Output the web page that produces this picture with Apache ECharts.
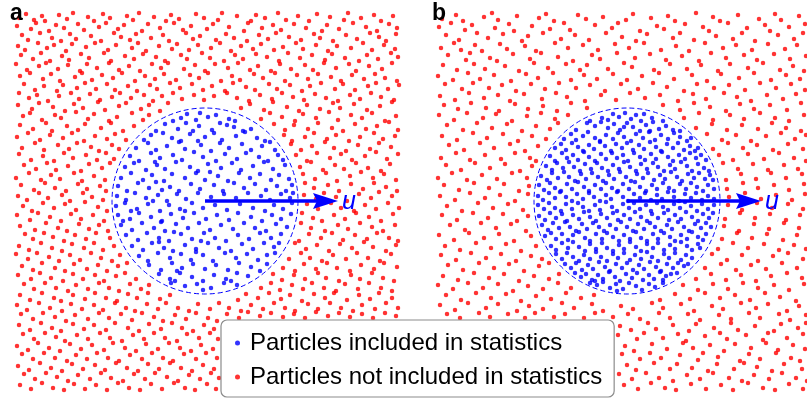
<!DOCTYPE html>
<html>
<head>
<meta charset="utf-8">
<script src="https://cdn.jsdelivr.net/npm/echarts@6/dist/echarts.min.js"></script>
<style>html,body{margin:0;padding:0;background:#fff}#chart{width:807px;height:398px}</style>
</head>
<body>
<div id="chart"></div>
<script>
// Panel-local coordinates (x right, y down), flat [x,y, x,y, ...]
const redA = [
4,6, 11,2, 19,8, 27,4, 30,9, 44,3, 52,7, 58,1, 73,5, 79,9, 88,2, 95,6, 112,4, 118,8, 124,1, 139,5, 151,9, 156,3, 164,7, 181,2, 189,6, 203,8, 207,1, 222,4, 236,9, 241,3, 250,6, 263,1, 271,8, 283,4, 294,9, 302,2, 315,5, 329,8, 333,1, 346,6, 359,3, 366,9, 378,4,
2,14, 16,17, 21,11, 34,19, 41,13, 49,16, 63,12, 69,18, 84,15, 91,11, 103,17, 109,13, 127,19, 133,12, 145,16, 159,11, 168,18, 176,14, 192,17, 198,12, 214,15, 229,19, 233,11, 247,16, 258,13, 266,18, 279,12, 291,16, 307,19, 312,13, 324,17, 338,11, 351,15, 362,19, 374,12, 382,16,
7,23, 13,28, 25,21, 37,26, 46,29, 55,22, 61,27, 76,24, 86,29, 99,21, 106,25, 115,28, 121,22, 136,26, 148,23, 154,29, 171,21, 178,27, 185,24, 201,28, 211,22, 219,26, 232,29, 244,23, 253,27, 261,21, 274,25, 286,28, 299,22, 305,26, 318,29, 331,23, 342,27, 355,21, 364,25, 371,29, 381,22,
3,34, 10,38, 23,31, 32,36, 39,33, 51,39, 57,32, 71,35, 80,31, 93,38, 101,33, 117,36, 123,31, 131,39, 144,34, 157,37, 162,32, 174,38, 183,33, 196,36, 205,31, 216,39, 226,34, 238,37, 246,32, 259,38, 268,35, 281,31, 288,37, 301,33, 313,39, 322,34, 336,36, 348,31, 357,38, 369,33, 380,37,
6,43, 18,47, 26,41, 35,49, 47,44, 54,48, 66,42, 74,46, 89,41, 96,49, 110,44, 119,47, 128,42, 141,45, 150,49, 166,43, 172,47, 187,41, 195,46, 209,49, 220,43, 228,47, 241,42, 252,45, 264,49, 273,41, 285,46, 297,43, 310,48, 317,42, 330,46, 344,49, 352,43, 363,47, 376,41, 383,45,
1,52, 12,58, 24,54, 31,51, 43,57, 53,53, 65,59, 72,52, 82,56, 94,51, 104,58, 114,54, 125,59, 137,52, 146,56, 153,51, 169,57, 180,53, 190,59, 200,52, 213,56, 223,51, 235,58, 243,54, 256,59, 265,52, 276,57, 290,53, 298,58, 309,51, 321,56, 334,52, 341,59, 354,54, 367,57, 377,51,
5,64, 15,61, 28,67, 36,62, 45,69, 60,65, 67,61, 77,68, 87,63, 98,66, 107,61, 120,69, 130,64, 140,67, 149,62, 161,68, 175,63, 184,66, 193,61, 206,69, 217,64, 225,68, 239,62, 248,66, 260,61, 270,69, 282,63, 293,67, 303,62, 316,65, 326,69, 337,63, 349,67, 360,62, 370,66, 382,69,
9,72, 20,78, 29,74, 42,79, 48,73, 62,76, 70,71, 81,77, 92,72, 100,78, 113,74, 122,79, 135,73, 142,77, 155,71, 165,76, 177,72, 188,78, 197,74, 210,79, 218,71, 231,75, 240,78, 254,72, 262,77, 275,73, 287,79, 295,74, 306,71, 320,77, 328,72, 340,78, 353,74, 361,71, 373,77, 384,73,
4,81, 14,86, 22,83, 33,89, 44,84, 56,81, 64,87, 75,82, 85,88, 97,85, 105,81, 116,86, 129,83, 138,89, 147,84, 158,81, 167,87, 179,83, 189,88, 199,84, 212,81, 222,86, 234,89, 245,83, 257,87, 267,81, 278,85, 289,88, 300,82, 311,86, 323,89, 335,83, 345,87, 356,81, 366,85, 379,88,
3,93, 17,97, 24,91, 38,95, 50,99, 59,92, 68,96, 83,90, 90,98, 104,94, 111,91, 126,97, 134,93, 145,99, 153,91, 226,96, 235,92, 249,98, 258,90, 272,95, 284,99, 292,93, 305,97, 318,91, 325,96, 339,92, 352,98, 365,94, 377,90,
8,104, 15,101, 27,108, 40,103, 46,106, 61,100, 73,107, 79,102, 94,109, 102,105, 117,101, 128,108, 134,103, 246,107, 255,101, 267,105, 280,109, 288,102, 301,106, 314,100, 323,108, 336,103, 347,106, 357,101, 370,109, 381,104,
5,113, 18,117, 31,111, 37,119, 52,114, 63,118, 70,112, 86,116, 96,111, 108,119, 119,114, 259,112, 270,118, 279,113, 293,117, 303,111, 317,116, 328,119, 340,112, 351,117, 362,114, 374,110, 383,118,
2,125, 13,121, 25,128, 35,123, 48,126, 57,121, 69,129, 80,124, 92,127, 100,122, 111,128, 269,123, 277,129, 290,125, 299,121, 312,127, 321,123, 334,129, 345,125, 359,121, 368,127, 380,124,
7,136, 20,131, 29,138, 43,133, 54,137, 62,131, 76,135, 84,139, 97,133, 104,137, 276,132, 286,138, 297,134, 310,130, 319,136, 331,139, 343,133, 355,137, 364,131, 376,135,
4,142, 16,148, 28,144, 39,149, 49,141, 58,146, 71,143, 82,148, 91,141, 99,147, 281,143, 292,149, 302,141, 315,146, 326,142, 337,148, 350,144, 361,140, 372,147, 383,142,
9,153, 21,157, 32,151, 41,158, 53,154, 66,159, 74,152, 87,156, 95,151, 285,155, 296,150, 308,158, 320,153, 329,157, 341,151, 353,156, 366,159, 375,152,
1,166, 14,161, 26,168, 36,163, 45,167, 59,161, 67,169, 79,164, 90,168, 288,162, 300,167, 311,161, 322,169, 335,164, 346,160, 358,166, 369,162, 381,168,
6,173, 19,178, 30,171, 40,176, 51,179, 63,172, 72,177, 85,174, 91,179, 290,171, 299,176, 313,173, 324,179, 336,172, 348,177, 359,171, 371,175, 382,179,
3,184, 12,188, 24,181, 33,186, 47,183, 55,189, 68,181, 77,185, 88,188, 289,183, 301,187, 309,181, 321,185, 332,189, 344,182, 356,186, 364,180, 377,184,
8,194, 17,199, 28,191, 39,196, 50,192, 61,198, 70,190, 83,195, 92,199, 292,192, 303,197, 316,191, 326,196, 339,199, 350,193, 361,197, 373,191, 384,196,
2,203, 15,208, 23,201, 35,205, 46,209, 56,202, 66,207, 78,203, 89,209, 287,201, 298,206, 307,209, 319,203, 330,207, 341,201, 354,205, 366,209, 378,202,
5,214, 20,218, 31,211, 43,216, 52,219, 64,212, 74,217, 84,213, 93,219, 286,211, 296,216, 310,219, 323,213, 333,217, 345,211, 357,215, 368,219, 380,213,
10,222, 18,227, 29,221, 38,225, 49,229, 60,223, 71,227, 81,221, 95,226, 284,229, 294,222, 306,226, 317,221, 328,228, 340,223, 352,227, 362,221, 374,226, 383,229,
4,234, 14,238, 26,231, 37,236, 47,239, 57,232, 69,236, 79,231, 88,238, 99,234, 280,231, 291,237, 302,233, 314,239, 325,232, 337,236, 349,230, 358,235, 371,239, 381,233,
1,242, 13,247, 22,241, 34,245, 44,249, 55,243, 65,248, 76,241, 86,246, 97,249, 105,243, 274,247, 286,241, 295,246, 307,249, 318,243, 331,247, 342,241, 353,246, 365,249, 376,242,
7,254, 18,258, 27,251, 40,256, 50,259, 59,252, 72,257, 83,253, 92,259, 103,254, 112,251, 268,256, 280,259, 289,252, 301,257, 312,251, 322,256, 335,259, 346,253, 359,257, 369,251, 382,255,
3,263, 16,267, 25,261, 36,266, 48,269, 58,262, 68,267, 80,263, 89,269, 101,264, 110,261, 121,267, 258,262, 267,268, 279,263, 290,267, 303,261, 311,266, 324,269, 336,263, 345,267, 357,261, 368,266, 379,269,
9,272, 19,277, 30,271, 41,276, 53,279, 61,273, 73,277, 84,271, 94,276, 104,279, 115,272, 126,277, 134,273, 246,276, 256,271, 265,278, 277,273, 288,277, 297,271, 309,276, 321,279, 330,272, 343,277, 354,271, 366,276, 377,279,
5,283, 15,288, 27,281, 39,286, 46,289, 58,283, 70,287, 80,281, 91,286, 102,289, 113,282, 122,286, 133,281, 145,287, 155,283, 223,288, 231,282, 243,286, 254,281, 266,287, 275,283, 287,289, 299,282, 310,286, 319,281, 332,288, 344,283, 355,287, 364,281, 377,286,
2,293, 12,298, 24,291, 35,296, 47,299, 56,292, 67,297, 79,293, 88,298, 100,291, 111,296, 120,299, 132,292, 143,297, 151,291, 163,296, 174,299, 183,292, 195,297, 204,291, 214,296, 226,299, 236,293, 248,297, 259,291, 270,296, 280,299, 293,292, 303,297, 315,291, 326,296, 338,299, 347,293, 360,297, 371,291, 383,296,
6,302, 18,307, 28,301, 40,305, 51,309, 60,303, 73,307, 84,301, 94,306, 106,302, 117,308, 127,301, 139,305, 148,309, 160,303, 171,307, 181,301, 193,306, 202,309, 212,302, 224,306, 233,300, 245,304, 256,301, 268,305, 279,302, 290,306, 301,300, 313,304, 324,301, 335,305, 347,302, 358,306, 370,301, 381,304,
4,313, 15,318, 26,311, 37,316, 46,319, 58,312, 69,317, 79,313, 91,318, 100,311, 113,316, 124,319, 134,312, 146,317, 157,311, 167,316, 178,319, 189,313, 199,317,
8,322, 19,327, 30,321, 41,325, 50,329, 62,323, 73,327, 85,321, 95,326, 107,329, 118,323, 129,327, 139,321, 150,326, 162,329, 172,322, 184,326, 195,321, 203,327,
2,334, 13,338, 23,331, 34,336, 45,339, 55,332, 66,337, 77,333, 89,338, 98,331, 110,336, 121,339, 131,332, 143,337, 154,331, 165,336, 176,339, 186,333, 198,337,
7,342, 18,347, 29,341, 40,346, 52,349, 61,343, 72,347, 82,341, 93,346, 104,349, 115,343, 127,347, 137,341, 148,346, 158,349, 169,342, 181,347, 191,341, 202,346,
3,354, 14,358, 25,351, 36,356, 47,359, 57,352, 68,357, 80,353, 90,358, 101,351, 112,356, 123,359, 133,352, 144,357, 155,351, 166,356, 177,359, 188,353, 199,357,
9,362, 20,367, 31,361, 42,365, 53,369, 63,363, 75,367, 86,361, 96,366, 108,369, 119,362, 130,367, 140,361, 152,365, 163,369, 174,363, 185,367, 196,361, 204,366,
5,373, 16,377, 27,371, 38,376, 49,378, 59,372, 70,377, 81,373, 92,378, 103,371, 114,376, 125,378, 136,372, 147,377, 159,371, 170,376, 180,378, 192,372, 201,377
];
const blueA = [
172,102, 185,101, 201,103, 166,106, 193,105, 214,107, 158,109, 181,108, 220,109,
150,112, 163,117, 171,111, 184,114, 197,118, 205,111, 219,115, 228,119, 141,119, 236,117, 178,119, 212,113,
136,123, 129,128, 148,121, 157,126, 166,129, 175,122, 190,125, 199,121, 207,128, 221,124, 230,120, 242,126, 250,129, 183,129,
121,136, 133,131, 141,138, 152,134, 164,130, 170,137, 186,133, 196,139, 205,131, 214,136, 227,132, 236,138, 247,134, 255,130, 260,138,
115,144, 124,149, 136,141, 145,146, 158,143, 167,148, 179,140, 188,145, 201,149, 210,142, 222,147, 231,141, 244,145, 253,149, 263,143, 268,148,
110,155, 119,151, 131,158, 142,153, 150,157, 161,150, 175,155, 183,159, 193,152, 206,156, 217,151, 226,158, 238,154, 249,150, 258,157, 270,153, 140,150,
106,166, 116,161, 128,168, 137,163, 149,169, 157,162, 170,166, 181,161, 190,168, 203,164, 213,169, 224,161, 235,166, 245,162, 256,168, 264,163, 274,167, 195,160,
103,174, 112,179, 123,171, 134,176, 141,170, 155,175, 164,179, 176,172, 185,177, 199,173, 208,179, 219,171, 229,176, 240,172, 251,178, 262,174, 271,179, 277,173, 147,178,
102,184, 111,188, 120,181, 131,186, 143,183, 152,189, 162,182, 171,187, 183,181, 196,185, 209,182, 221,186, 233,181, 246,184, 255,188, 266,182, 275,186, 278,181, 138,189,
101,194, 110,191, 122,197, 133,192, 145,199, 154,193, 165,197, 177,191, 188,196, 200,193, 212,198, 225,192, 238,196, 250,199, 259,193, 268,197, 277,191, 116,199, 170,199,
103,203, 115,207, 124,201, 136,205, 147,209, 156,202, 168,206, 179,201, 191,207, 202,203, 214,208, 223,201, 236,205, 247,209, 257,203, 266,207, 276,202, 108,209,
106,213, 117,218, 127,211, 139,216, 150,219, 161,212, 173,216, 184,211, 195,218, 206,213, 218,217, 229,211, 240,216, 251,219, 261,212, 272,215, 146,210,
111,223, 123,228, 132,221, 144,226, 154,229, 166,222, 177,227, 189,221, 200,226, 211,229, 223,223, 234,227, 245,221, 256,226, 266,222, 159,220, 186,229,
117,234, 128,238, 137,231, 149,236, 158,239, 170,233, 181,237, 193,231, 204,236, 216,239, 227,232, 238,237, 249,231, 259,235, 264,231, 144,230,
124,244, 133,249, 143,241, 155,246, 166,242, 176,248, 188,243, 198,249, 210,241, 221,246, 232,242, 243,248, 252,243, 260,241, 181,240,
134,253, 146,258, 157,251, 167,256, 178,252, 190,257, 201,253, 213,258, 224,251, 236,255, 245,259, 252,252, 162,259,
144,262, 155,267, 165,261, 177,265, 188,269, 199,263, 211,267, 222,261, 233,264, 160,269, 216,269,
156,271, 170,274, 182,272, 196,276, 209,271, 222,273, 188,278
];
const redB = [
5,7, 19,3, 26,9, 47,5, 55,1, 61,8, 80,4, 102,6, 109,2, 117,9, 141,3, 149,7, 166,5, 189,8, 196,2, 214,6, 231,4, 238,9, 259,1, 276,5, 283,9, 301,3, 322,7, 338,2, 344,8, 362,4,
2,15, 14,11, 28,18, 35,13, 58,16, 72,12, 77,19, 95,14, 113,17, 127,11, 133,18, 158,13, 175,16, 181,11, 203,19, 220,14, 227,17, 248,12, 266,15, 272,19, 291,11, 310,16, 328,13, 333,19, 352,15, 368,12,
9,23, 22,28, 40,21, 51,26, 66,22, 85,29, 91,24, 106,21, 124,27, 138,23, 152,28, 169,21, 185,25, 199,29, 210,22, 236,26, 243,21, 257,28, 279,24, 296,27, 305,21, 318,29, 341,23, 357,27, 366,21,
4,36, 17,31, 24,38, 38,33, 45,39, 63,32, 70,37, 88,34, 99,39, 118,31, 131,36, 146,33, 161,38, 178,32, 192,36, 207,31, 224,38, 239,34, 252,39, 268,31, 286,36, 299,33, 315,38, 331,32, 348,37, 360,33,
11,43, 29,48, 33,41, 53,46, 60,49, 76,42, 93,47, 104,41, 121,45, 136,49, 155,43, 163,47, 180,41, 198,46, 213,42, 229,48, 245,44, 262,49, 274,41, 289,46, 307,43, 320,48, 337,42, 353,47, 369,44,
6,53, 20,58, 37,52, 48,57, 68,54, 82,59, 97,51, 111,56, 129,52, 143,58, 150,53, 171,57, 187,51, 195,55, 217,58, 233,52, 250,57, 264,53, 281,59, 293,52, 311,56, 326,51, 343,58, 356,54, 367,59,
1,64, 16,68, 31,61, 43,67, 57,63, 74,69, 89,62, 101,66, 116,61, 134,68, 147,63, 160,67, 176,62, 190,68, 205,64, 222,61, 237,67, 255,63, 270,69, 284,62, 302,66, 317,61, 334,68, 349,63, 363,67,
8,72, 25,77, 36,71, 52,76, 65,73, 79,79, 94,72, 108,77, 122,71, 139,76, 153,73, 168,79, 184,72, 201,77, 216,71, 230,75, 247,79, 260,72, 277,76, 292,73, 308,78, 323,71, 339,76, 354,72, 368,78,
3,84, 18,88, 32,81, 47,86, 61,83, 73,89, 87,82, 105,87, 119,81, 130,85, 148,89, 164,83, 179,88, 193,81, 208,86, 223,83, 241,89, 256,82, 269,87, 287,81, 300,85, 314,89, 330,83, 346,87, 359,82,
7,93, 21,97, 34,91, 49,96, 62,99, 78,92, 91,97, 106,94, 120,99, 134,91, 150,96, 226,93, 243,98, 257,91, 273,95, 289,99, 303,92, 317,97, 333,93, 350,98, 364,91,
2,103, 17,108, 30,101, 46,106, 59,102, 75,109, 90,104, 104,101, 118,107, 131,103, 247,106, 262,101, 276,108, 293,103, 307,107, 323,101, 338,106, 352,109, 367,103,
10,113, 26,118, 40,111, 55,116, 70,112, 85,119, 99,114, 113,117, 121,111, 259,116, 275,112, 290,118, 305,113, 321,117, 335,111, 349,116, 364,119,
5,124, 20,128, 36,121, 50,126, 66,122, 81,129, 95,124, 109,127, 270,122, 285,128, 299,123, 314,129, 329,124, 344,121, 358,127, 369,123,
12,133, 27,138, 43,131, 57,136, 73,132, 88,139, 101,134, 276,137, 291,131, 306,136, 320,133, 336,138, 351,132, 366,137,
4,146, 19,141, 33,148, 48,143, 64,147, 78,141, 93,146, 99,149, 282,143, 296,148, 311,142, 327,147, 342,141, 357,146, 369,149,
9,153, 24,158, 38,151, 53,156, 68,152, 83,159, 95,154, 286,151, 301,157, 316,152, 331,158, 347,153, 361,157,
1,166, 15,161, 30,168, 45,163, 60,167, 75,161, 90,166, 289,168, 304,162, 319,167, 334,161, 349,166, 365,162,
7,173, 22,178, 37,171, 52,176, 67,172, 82,179, 92,174, 290,177, 306,171, 321,176, 337,173, 352,178, 367,172,
3,184, 18,188, 33,181, 48,186, 63,183, 78,189, 91,182, 292,185, 308,181, 324,187, 339,183, 355,188, 368,182,
10,194, 25,199, 41,191, 56,196, 71,192, 86,198, 291,193, 305,198, 320,191, 335,196, 351,192, 366,197,
5,203, 20,208, 36,201, 51,206, 66,202, 80,209, 91,204, 288,207, 303,201, 318,206, 333,202, 349,208, 363,203,
13,213, 28,218, 44,211, 59,216, 74,212, 89,219, 287,214, 302,219, 317,212, 332,217, 347,211, 362,216,
2,223, 17,228, 32,221, 47,226, 62,222, 77,229, 94,224, 285,227, 300,221, 315,226, 330,222, 346,228, 360,223,
8,234, 23,238, 39,231, 54,236, 69,232, 84,239, 99,234, 281,237, 296,231, 311,236, 327,232, 342,238, 357,233, 369,237,
4,243, 19,248, 34,241, 49,246, 64,242, 79,249, 94,244, 105,247, 275,242, 290,248, 305,243, 321,249, 336,244, 351,241, 366,247,
11,253, 26,258, 42,251, 57,256, 72,252, 87,259, 102,254, 112,251, 268,256, 284,252, 299,258, 314,253, 329,257, 345,251, 360,256,
6,264, 21,268, 37,261, 52,266, 67,262, 82,269, 97,264, 112,267, 122,262, 259,267, 274,262, 289,268, 304,263, 319,269, 334,264, 350,261, 365,266,
1,273, 16,277, 31,271, 46,276, 61,272, 76,279, 91,274, 106,277, 121,271, 134,276, 246,273, 261,278, 276,272, 291,277, 306,271, 321,276, 337,273, 352,278, 367,272,
9,283, 24,288, 39,281, 54,286, 69,282, 84,289, 99,284, 114,287, 129,281, 144,286, 157,283, 223,288, 238,282, 253,287, 268,281, 283,286, 298,283, 313,288, 328,281, 343,285, 359,289,
3,293, 18,298, 31,291, 49,296, 61,292, 80,299, 92,294, 106,297, 125,291, 137,296, 155,292, 166,299, 184,294, 196,297, 215,291, 226,296, 244,292, 257,299, 275,294, 286,297, 304,291, 319,296, 331,292, 350,299, 362,294,
10,302, 23,306, 42,301, 53,305, 71,302, 88,306, 98,301, 117,305, 128,302, 147,306, 158,301, 176,305, 191,302, 203,307, 222,301, 233,306, 251,302, 263,308, 282,303, 294,307, 312,301, 323,306, 342,302, 353,308, 369,303,
183,314, 194,318, 211,311, 219,317, 236,313, 252,319, 259,312, 277,316, 294,311, 301,318, 318,314, 337,319, 344,312, 361,316, 369,311,
181,323, 200,327, 207,321, 226,326, 241,322, 249,329, 268,324, 283,321, 290,327, 309,323, 326,328, 331,321, 350,326, 366,322,
188,334, 197,339, 215,332, 230,337, 246,331, 256,336, 273,333, 287,339, 298,332, 314,336, 329,331, 341,338, 356,333, 368,337,
185,342, 203,347, 213,341, 224,346, 243,343, 261,348, 266,341, 281,345, 303,349, 312,342, 323,347, 339,341, 354,346, 363,349,
190,353, 199,358, 217,351, 233,357, 240,352, 255,356, 271,359, 280,352, 297,357, 307,351, 320,355, 335,359, 347,352, 365,357,
182,362, 195,367, 209,361, 222,366, 236,369, 250,363, 263,367, 276,361, 292,366, 305,369, 317,363, 332,367, 345,361, 359,366, 370,369,
187,373, 201,377, 214,371, 228,376, 239,378, 254,372, 269,377, 284,373, 296,378, 311,371, 326,376, 338,378, 352,372, 366,377
];
const blueB = [
176,102, 188,101, 199,103, 207,102, 165,106, 182,105, 194,107, 215,106, 153,109, 171,108, 204,109, 226,109,
150,111, 158,114, 164,110, 171,116, 177,112, 183,118, 190,111, 196,115, 203,119, 209,113, 216,110, 222,117, 229,114, 236,118, 243,119, 139,118, 187,115, 213,119,
127,127, 134,122, 139,128, 146,124, 151,120, 158,126, 163,129, 169,123, 176,127, 181,121, 187,125, 194,129, 199,122, 206,126, 212,120, 218,128, 224,123, 231,127, 237,121, 243,125, 250,129, 254,126,
118,136, 124,132, 129,138, 135,131, 141,135, 146,139, 152,133, 157,137, 163,130, 168,134, 174,139, 179,132, 185,136, 190,131, 196,138, 202,133, 207,137, 213,130, 219,135, 224,139, 230,132, 236,136, 241,131, 247,138, 253,134, 258,139, 261,136,
113,144, 118,149, 125,141, 130,146, 136,143, 141,148, 147,140, 152,145, 158,149, 164,142, 169,147, 175,141, 180,146, 186,143, 191,149, 197,141, 203,145, 208,148, 214,142, 219,147, 225,140, 231,145, 236,149, 242,143, 248,147, 253,141, 259,146, 264,143, 269,148,
109,154, 115,158, 120,151, 126,156, 132,150, 137,155, 143,159, 148,152, 154,157, 160,151, 165,156, 171,159, 176,153, 182,157, 187,150, 193,155, 199,159, 204,152, 210,157, 216,151, 221,155, 227,159, 233,153, 238,157, 244,150, 250,154, 255,159, 261,152, 267,156, 272,159,
104,164, 110,168, 115,161, 121,166, 127,160, 132,165, 138,169, 144,162, 149,167, 155,161, 161,165, 166,169, 172,163, 177,167, 183,160, 189,165, 194,169, 200,162, 206,166, 211,161, 217,168, 223,163, 228,167, 234,160, 240,165, 245,169, 251,162, 257,166, 262,161, 268,167, 273,163, 276,168,
102,173, 107,178, 113,171, 118,176, 124,179, 130,172, 135,177, 141,170, 147,175, 152,179, 158,173, 164,177, 169,171, 175,176, 181,179, 186,172, 192,177, 198,170, 203,175, 209,179, 215,173, 220,177, 226,171, 232,176, 237,179, 243,172, 249,177, 254,171, 260,175, 266,179, 271,173, 277,177,
101,184, 106,188, 112,181, 118,186, 123,180, 129,185, 135,189, 140,182, 146,187, 152,181, 157,185, 163,189, 169,183, 174,187, 180,180, 186,185, 191,189, 197,182, 203,186, 208,181, 214,188, 220,183, 225,187, 231,180, 237,185, 242,189, 248,182, 254,186, 259,181, 265,188, 271,184, 277,187,
101,193, 107,197, 112,191, 118,196, 124,199, 129,192, 135,197, 141,191, 146,195, 152,199, 158,193, 163,198, 169,190, 175,195, 180,199, 186,192, 192,196, 197,191, 203,197, 209,193, 214,199, 220,191, 226,195, 231,198, 237,192, 243,196, 248,190, 254,194, 260,199, 265,192, 271,197, 277,193,
102,204, 108,208, 113,201, 119,206, 125,202, 130,209, 136,203, 142,207, 147,200, 153,205, 159,209, 164,202, 170,206, 176,201, 181,208, 187,203, 193,207, 198,200, 204,205, 210,209, 215,202, 221,206, 227,201, 232,208, 238,203, 244,207, 249,200, 255,205, 261,209, 266,202, 272,206, 276,201,
105,213, 111,218, 116,211, 122,216, 128,210, 133,215, 139,219, 145,212, 150,217, 156,211, 162,215, 167,219, 173,213, 179,217, 184,210, 190,215, 196,219, 201,212, 207,217, 213,211, 218,215, 224,219, 230,213, 235,217, 241,210, 247,215, 252,219, 258,212, 264,216, 269,211, 274,215,
108,224, 114,221, 119,227, 125,222, 131,228, 136,223, 142,220, 148,226, 153,229, 159,222, 165,227, 170,221, 176,225, 182,229, 187,223, 193,227, 199,220, 204,226, 210,229, 216,222, 221,227, 227,221, 233,225, 238,229, 244,223, 250,227, 255,220, 261,225, 266,228, 269,222,
114,234, 119,238, 125,231, 131,236, 136,230, 142,235, 148,239, 153,232, 159,237, 165,231, 170,236, 176,239, 182,233, 187,237, 193,230, 199,235, 204,239, 210,232, 216,236, 221,231, 227,238, 233,233, 238,237, 244,230, 250,234, 255,238, 261,232, 263,236,
119,242, 125,247, 130,241, 136,245, 142,249, 147,243, 153,247, 159,240, 164,245, 170,249, 176,242, 181,246, 187,241, 193,248, 198,243, 204,247, 210,240, 215,245, 221,249, 227,242, 232,246, 238,241, 244,248, 249,243, 255,246,
128,252, 134,256, 139,251, 145,258, 151,253, 156,257, 162,250, 168,255, 173,259, 179,252, 185,256, 190,251, 196,258, 202,253, 207,257, 213,250, 219,255, 224,259, 230,252, 236,256, 241,251, 247,254, 251,252,
138,261, 144,265, 149,262, 155,268, 161,263, 166,267, 172,260, 178,265, 183,269, 189,262, 195,266, 200,261, 206,268, 212,263, 217,267, 223,260, 229,264, 234,262, 240,261, 158,269, 226,268,
153,271, 160,273, 166,270, 173,276, 179,272, 186,277, 192,271, 199,274, 205,278, 212,272, 218,275, 226,271, 180,279
];
// Region of interest: [centerX, centerY, radius, arrowTipX] in panel units
const regionA = [190, 189, 93, 323];
const regionB = [190, 189, 93, 324];
const velocityLabel = 'u';
const panelLabels = ['a', 'b'];
const nameIn = 'Particles included in statistics';
const nameOut = 'Particles not included in statistics';

function toPairs(flat) {
  const out = [];
  for (let i = 0; i + 1 < flat.length; i += 2) out.push([flat[i], flat[i + 1]]);
  return out;
}

const BLUE = '#0000ff', RED = '#ff0000';
const FONT = '"Liberation Sans", Arial, sans-serif';

function renderRegion(params, api) {
  const c = api.coord([api.value(0), api.value(1)]);
  const r = api.size([api.value(2), 0])[0];
  const tip = api.coord([api.value(3), api.value(1)]);
  const headLen = 25, headHalf = 8;
  return {
    type: 'group',
    children: [
      { type: 'circle', shape: { cx: c[0], cy: c[1], r: r },
        style: { fill: 'none', stroke: BLUE, lineWidth: 1, lineDash: [5, 3] } },
      { type: 'line', shape: { x1: c[0], y1: c[1], x2: tip[0] - headLen + 4, y2: c[1] },
        style: { stroke: BLUE, lineWidth: 3.5 } },
      { type: 'polygon', shape: { points: [[tip[0], c[1]], [tip[0] - headLen, c[1] - headHalf],
          [tip[0] - headLen + 4, c[1]], [tip[0] - headLen, c[1] + headHalf]] },
        style: { fill: BLUE } },
      { type: 'text', style: { text: velocityLabel, x: tip[0] + 4, y: c[1] + 1, fill: BLUE,
          font: 'italic 25px ' + FONT, verticalAlign: 'middle', align: 'left' } }
    ]
  };
}

const chart = echarts.init(document.getElementById('chart'), null, { renderer: 'canvas' });
const dot = 4.5;

chart.setOption({
  animation: false,
  backgroundColor: '#fff',
  title: [
    { text: panelLabels[0], left: 10, top: 2, padding: 0,
      textStyle: { fontSize: 23, fontWeight: 'bold', color: '#000', fontFamily: FONT } },
    { text: panelLabels[1], left: 432, top: 2, padding: 0,
      textStyle: { fontSize: 23, fontWeight: 'bold', color: '#000', fontFamily: FONT } }
  ],
  grid: [
    { left: 15, top: 12, width: 385, height: 380 },
    { left: 437, top: 12, width: 370, height: 380 }
  ],
  xAxis: [
    { gridIndex: 0, type: 'value', min: 0, max: 385, show: false },
    { gridIndex: 1, type: 'value', min: 0, max: 370, show: false }
  ],
  yAxis: [
    { gridIndex: 0, type: 'value', min: 0, max: 380, inverse: true, show: false },
    { gridIndex: 1, type: 'value', min: 0, max: 380, inverse: true, show: false }
  ],
  legend: {
    data: [nameIn, nameOut],
    orient: 'vertical',
    left: 221, top: 320,
    padding: [11, 12, 8, 14],
    itemWidth: 5, itemHeight: 5, itemGap: 10,
    icon: 'circle',
    backgroundColor: '#fff',
    borderColor: '#8c8c8c', borderWidth: 1.2, borderRadius: 6,
    selectedMode: false,
    textStyle: { fontSize: 24, color: '#000', fontFamily: FONT, padding: [0, 0, 0, 5] }
  },
  series: [
    { type: 'scatter', name: nameOut, xAxisIndex: 0, yAxisIndex: 0, data: toPairs(redA),
      symbolSize: dot, itemStyle: { color: RED }, silent: true },
    { type: 'scatter', name: nameIn, xAxisIndex: 0, yAxisIndex: 0, data: toPairs(blueA),
      symbolSize: dot, itemStyle: { color: BLUE }, silent: true },
    { type: 'scatter', name: nameOut, xAxisIndex: 1, yAxisIndex: 1, data: toPairs(redB),
      symbolSize: dot, itemStyle: { color: RED }, silent: true },
    { type: 'scatter', name: nameIn, xAxisIndex: 1, yAxisIndex: 1, data: toPairs(blueB),
      symbolSize: dot, itemStyle: { color: BLUE }, silent: true },
    { type: 'custom', xAxisIndex: 0, yAxisIndex: 0, data: [regionA], renderItem: renderRegion, z: 3, silent: true, clip: false },
    { type: 'custom', xAxisIndex: 1, yAxisIndex: 1, data: [regionB], renderItem: renderRegion, z: 3, silent: true, clip: false }
  ]
});
</script>
</body>
</html>
